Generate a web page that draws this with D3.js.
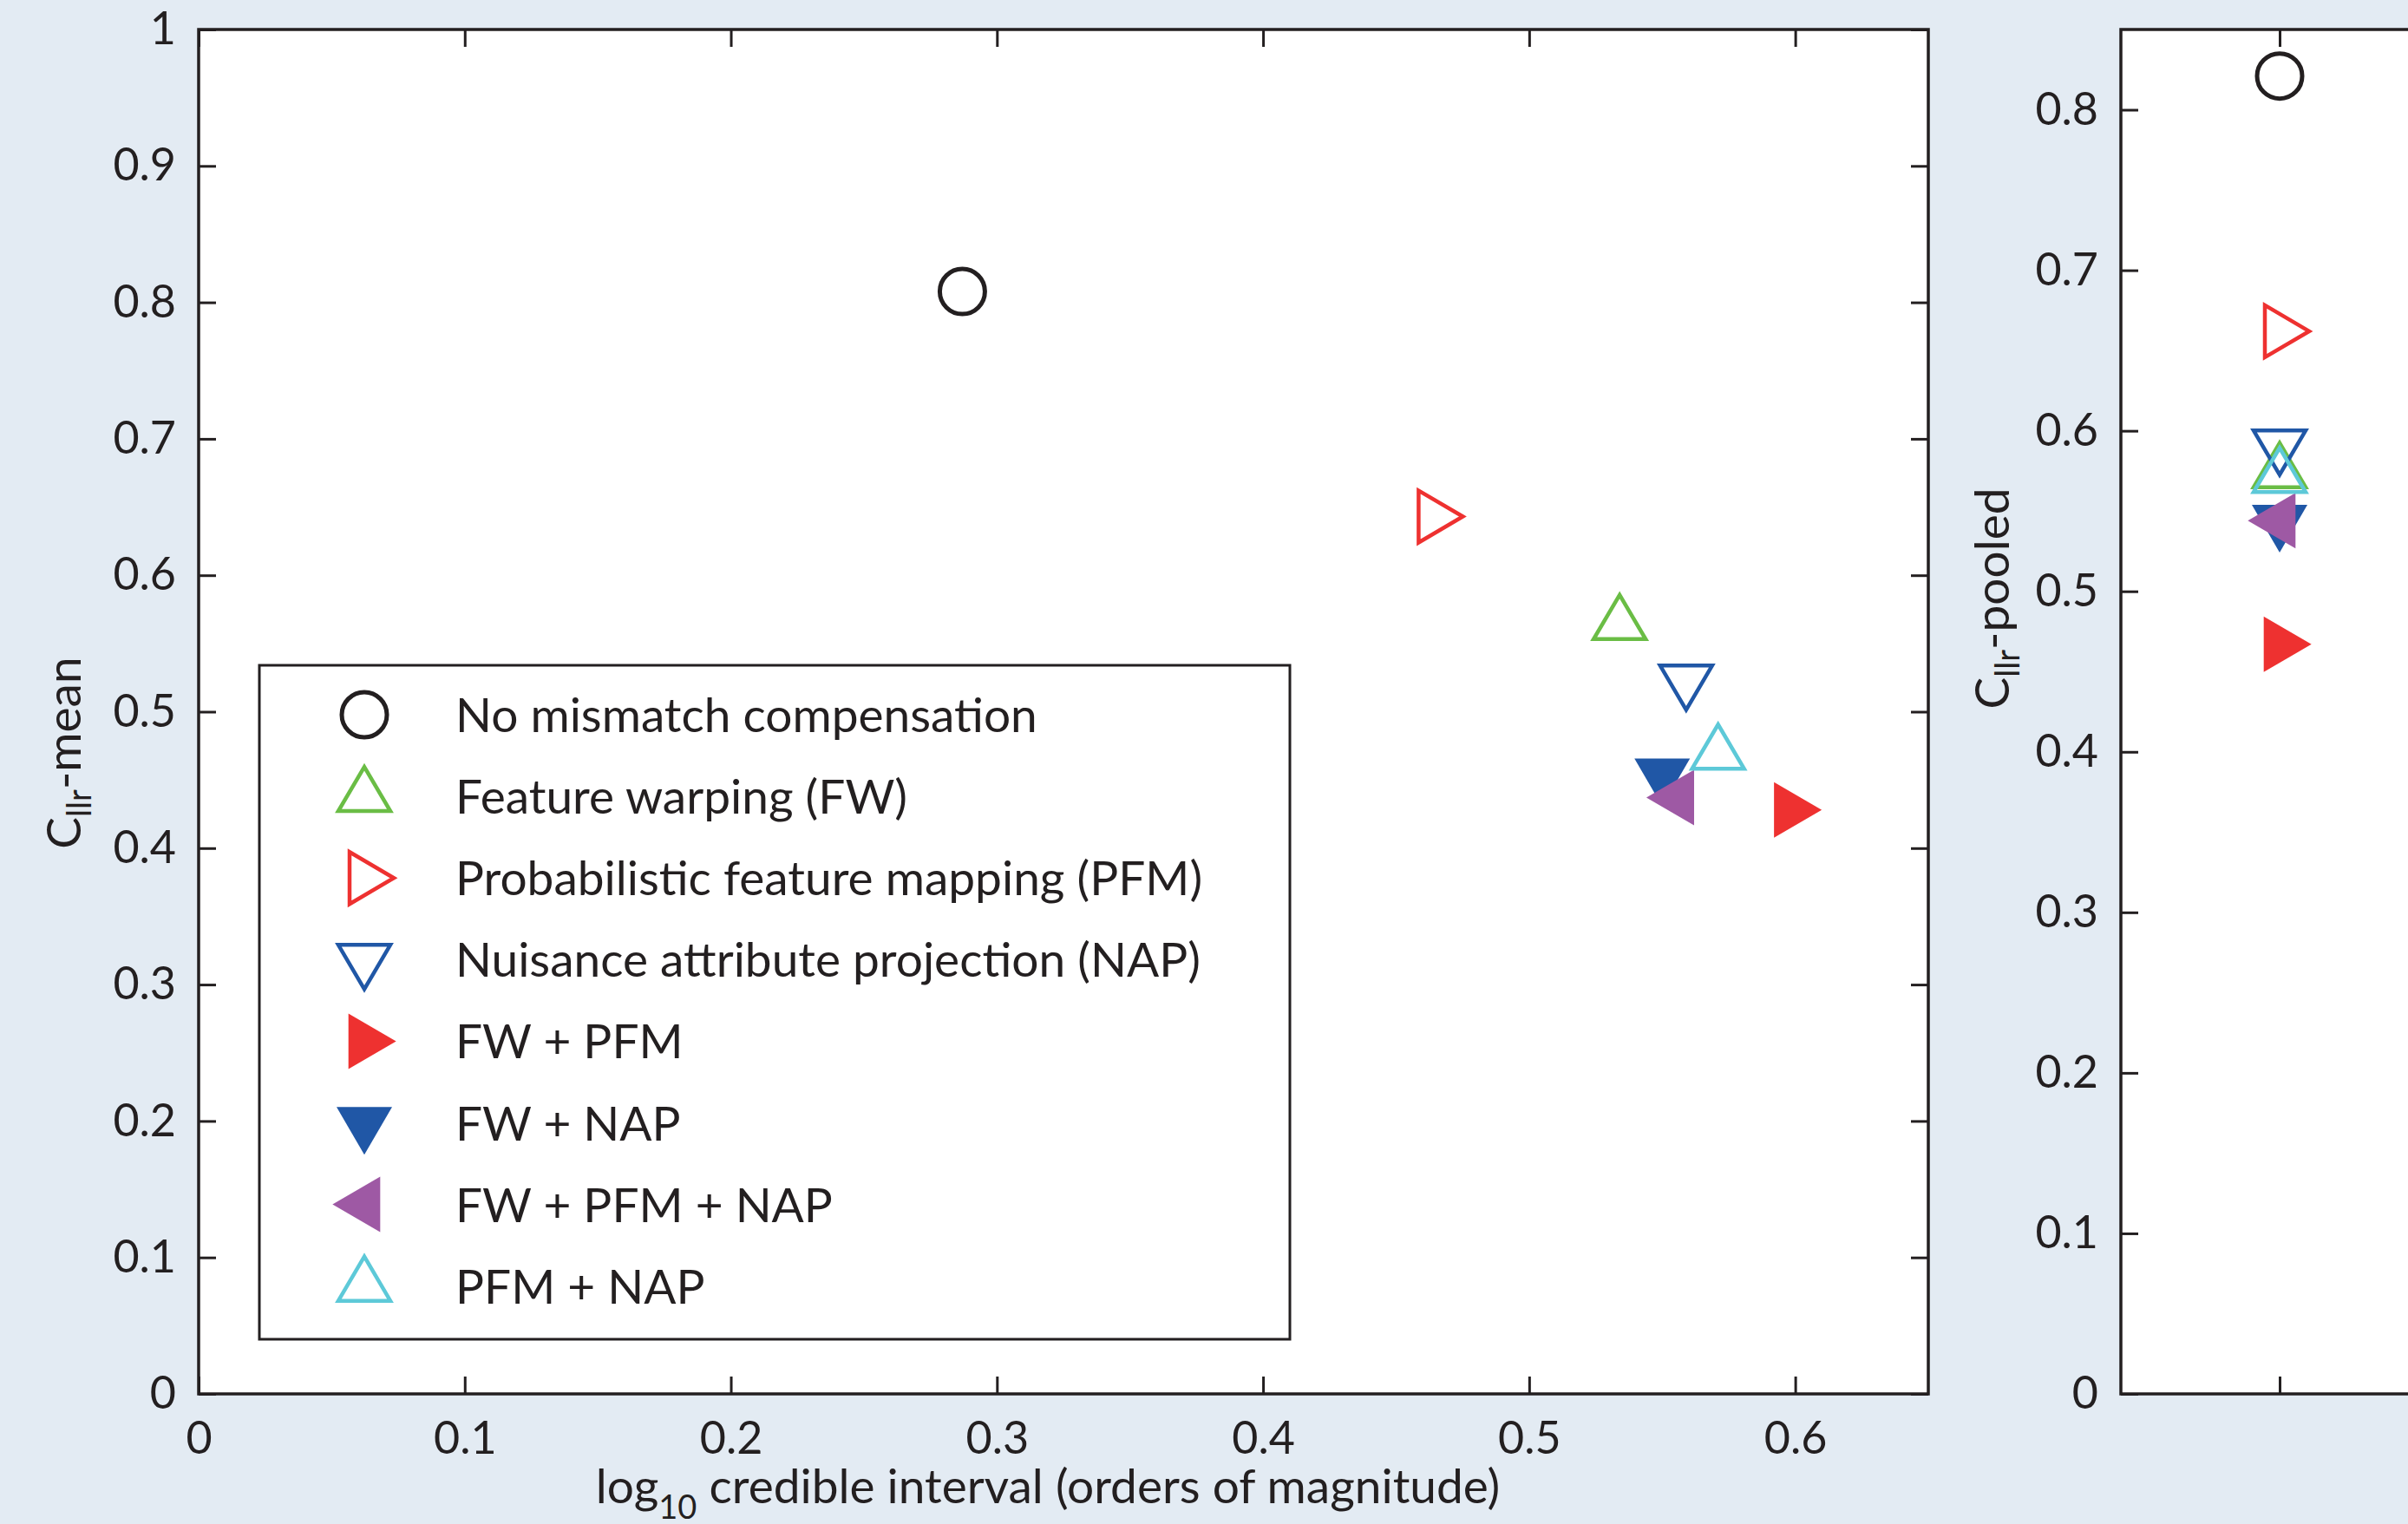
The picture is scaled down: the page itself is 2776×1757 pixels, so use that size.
<!DOCTYPE html>
<html>
<head>
<meta charset="utf-8">
<script src="https://cdn.jsdelivr.net/npm/d3@7"></script>
<style>
  body { margin: 0; background: #e3ebf3; }
  svg text { font-family: Lato, "Open Sans", sans-serif; fill: #231f20; }
</style>
</head>
<body>
<div id="chart"></div>
<script>

// data
var methods = [
    "No mismatch compensation",
    "Feature warping (FW)",
    "Probabilistic feature mapping (PFM)",
    "Nuisance attribute projection (NAP)",
    "FW + PFM",
    "FW + NAP",
    "FW + PFM + NAP",
    "PFM + NAP"
];
var credInterval = [0.287, 0.534, 0.464, 0.559, 0.598, 0.550, 0.556, 0.571];
var cllrMean     = [0.808, 0.564, 0.643, 0.523, 0.428, 0.454, 0.437, 0.469];
var cllrPooled   = [0.821, 0.574, 0.662, 0.591, 0.467, 0.544, 0.544, 0.571];
var xTicks = [0, 0.1, 0.2, 0.3, 0.4, 0.5, 0.6];
var yTicks = [0, 0.1, 0.2, 0.3, 0.4, 0.5, 0.6, 0.7, 0.8, 0.9, 1];
var pooledTicks = [0, 0.1, 0.2, 0.3, 0.4, 0.5, 0.6, 0.7, 0.8];

// marker style per method
var shapes = ["circle", "up", "right", "down", "right", "down", "left", "up"];
var filled = [false, false, false, false, true, true, true, false];
var colors = ["#231f20", "#6abd45", "#ee3130", "#2057a6", "#ee3130", "#2057a6", "#9e59a4", "#5dc9d8"];

var W = 2776, H = 1757;
var svg = d3.select("#chart").append("svg")
    .attr("width", W)
    .attr("height", H);

svg.append("rect").attr("width", W).attr("height", H).attr("fill", "#e3ebf3");

// main panel
var plot = { left: 229, right: 2223, top: 34, bottom: 1607 };
var x = d3.scaleLinear().domain([0, 0.65]).range([plot.left, plot.right]);
var y = d3.scaleLinear().domain([0, 1]).range([plot.bottom, plot.top]);

// pooled panel (runs off the right edge)
var plot2 = { left: 2445, right: 2811, top: 34, bottom: 1607 };
var x2 = d3.scaleLinear().domain([0, 2]).range([plot2.left, plot2.right]);
var y2 = d3.scaleLinear().domain([0, 0.85]).range([plot2.bottom, plot2.top]);

var fmt = d3.format("~g");

// triangle path around the centroid
function markerPath(shape, isFilled) {
    var w = isFilled ? 64 : 60, h = isFilled ? 55 : 51;
    var pts;
    if (shape == "up") pts = [[0, -2 * h / 3], [w / 2, h / 3], [-w / 2, h / 3]];
    if (shape == "down") pts = [[0, 2 * h / 3], [w / 2, -h / 3], [-w / 2, -h / 3]];
    if (shape == "right") pts = [[2 * h / 3, 0], [-h / 3, -w / 2], [-h / 3, w / 2]];
    if (shape == "left") pts = [[-2 * h / 3, 0], [h / 3, -w / 2], [h / 3, w / 2]];
    return "M" + pts.map(function (p) { return p.join(","); }).join("L") + "Z";
}

function drawMarker(g, i, cx, cy) {
    var m;
    if (shapes[i] == "circle") {
        m = g.append("circle").attr("cx", cx).attr("cy", cy).attr("r", 26);
    } else {
        m = g.append("path")
            .attr("d", markerPath(shapes[i], filled[i]))
            .attr("transform", "translate(" + cx + "," + cy + ")");
    }
    if (filled[i]) {
        m.attr("fill", colors[i]).attr("stroke", "none");
    } else {
        m.attr("fill", "none").attr("stroke", colors[i]).attr("stroke-width", shapes[i] == "circle" ? 5 : 4.5)
            .attr("stroke-linejoin", "miter");
    }
}

function styleAxis(g, labels) {
    g.select(".domain").remove();
    g.selectAll(".tick line").attr("stroke", "#231f20").attr("stroke-width", 3);
    if (labels) {
        g.selectAll(".tick text").attr("font-size", 52).attr("fill", "#231f20");
    } else {
        g.selectAll(".tick text").remove();
    }
}

function drawPanel(sx, sy, p, yt, xt, xLabels) {
    svg.append("rect")
        .attr("x", p.left).attr("y", p.top)
        .attr("width", p.right - p.left).attr("height", p.bottom - p.top)
        .attr("fill", "#ffffff");

    svg.append("g").attr("transform", "translate(" + p.left + ",0)")
        .call(d3.axisLeft(sy).tickValues(yt).tickSize(-20).tickPadding(26).tickFormat(fmt))
        .call(styleAxis, true);
    svg.append("g").attr("transform", "translate(" + p.right + ",0)")
        .call(d3.axisRight(sy).tickValues(yt).tickSize(-20))
        .call(styleAxis, false);
    svg.append("g").attr("transform", "translate(0," + p.bottom + ")")
        .call(d3.axisBottom(sx).tickValues(xt).tickSize(-20).tickPadding(32).tickFormat(fmt))
        .call(styleAxis, xLabels);
    svg.append("g").attr("transform", "translate(0," + p.top + ")")
        .call(d3.axisTop(sx).tickValues(xt).tickSize(-20))
        .call(styleAxis, false);

    svg.append("rect")
        .attr("x", p.left).attr("y", p.top)
        .attr("width", p.right - p.left).attr("height", p.bottom - p.top)
        .attr("fill", "none").attr("stroke", "#231f20").attr("stroke-width", 3.5);
}

drawPanel(x, y, plot, yTicks, xTicks, true);
drawPanel(x2, y2, plot2, pooledTicks, [1], false);

// points, main panel
var pts = svg.append("g");
methods.forEach(function (d, i) {
    drawMarker(pts, i, x(credInterval[i]), y(cllrMean[i]));
});

// points, pooled panel
var pts2 = svg.append("g");
methods.forEach(function (d, i) {
    drawMarker(pts2, i, x2(1), y2(cllrPooled[i]));
});

// legend
var leg = { x: 299, y: 767, w: 1188, h: 777, row0: 824, step: 94.1 };
svg.append("rect")
    .attr("x", leg.x).attr("y", leg.y).attr("width", leg.w).attr("height", leg.h)
    .attr("fill", "#ffffff").attr("stroke", "#231f20").attr("stroke-width", 3);
var lg = svg.append("g");
methods.forEach(function (d, i) {
    var cy = leg.row0 + i * leg.step;
    drawMarker(lg, i, 420, cy);
    lg.append("text")
        .attr("x", 525).attr("y", cy + 20)
        .attr("font-size", 55)
        .text(d);
});

// axis titles
var xl = svg.append("text")
    .attr("x", 1208).attr("y", 1733)
    .attr("text-anchor", "middle")
    .attr("font-size", 55);
xl.append("tspan").text("log");
xl.append("tspan").attr("font-size", 38).attr("dy", 18).text("10");
xl.append("tspan").attr("dy", -18).text(" credible interval (orders of magnitude)");

function yTitle(cx, cy, rest) {
    var t = svg.append("text")
        .attr("transform", "translate(" + cx + "," + cy + ") rotate(-90)")
        .attr("text-anchor", "middle")
        .attr("font-size", 55);
    t.append("tspan").text("C");
    t.append("tspan").attr("font-size", 38).attr("dy", 12).text("llr");
    t.append("tspan").attr("dy", -12).text(rest);
}
yTitle(93, 868, "-mean");
yTitle(2316, 690, "-pooled");

</script>
</body>
</html>
